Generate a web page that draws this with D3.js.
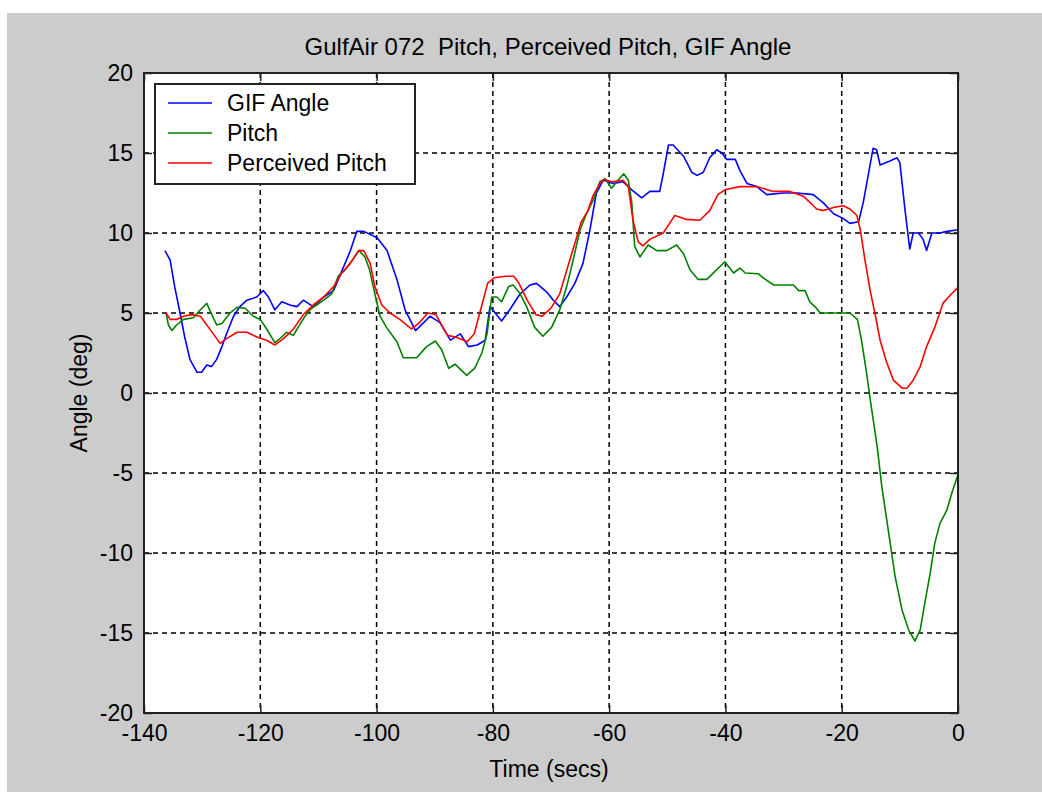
<!DOCTYPE html>
<html>
<head>
<meta charset="utf-8">
<script src="https://cdn.jsdelivr.net/npm/d3@7"></script>
<style>
  body { margin: 0; background: #fff; }
  svg { display: block; }
  text { font-family: "Liberation Sans", Arial, sans-serif; fill: #000; white-space: pre; }
</style>
</head>
<body>
<div id="chart"></div>
<script>
// GIF Angle
const gifTime = [-136.4,-135.5,-134.7,-133.8,-133.0,-132.1,-130.9,-130.1,-129.2,-128.4,-127.5,-126.6,-125.8,-124.6,-123.5,-122.3,-120.6,-119.5,-118.6,-117.5,-116.3,-114.9,-113.7,-112.6,-110.9,-109.1,-107.4,-106.0,-104.5,-103.4,-102.2,-99.9,-98.2,-96.5,-95.1,-93.3,-91.9,-90.8,-89.1,-87.3,-85.6,-84.2,-82.7,-81.3,-80.5,-79.6,-78.5,-77.1,-75.3,-73.6,-72.5,-70.7,-69.6,-68.5,-67.3,-65.9,-64.5,-63.3,-62.2,-61.0,-59.3,-57.6,-56.1,-54.4,-53.0,-51.3,-50.7,-49.8,-49.0,-47.2,-45.8,-44.9,-43.8,-42.7,-41.5,-40.6,-39.8,-38.3,-37.5,-36.3,-34.6,-32.9,-30.0,-27.7,-24.9,-23.2,-21.4,-19.7,-18.6,-17.1,-16.3,-15.4,-14.6,-14.0,-13.4,-11.7,-10.5,-10.0,-9.1,-8.3,-7.7,-6.8,-6.0,-5.4,-4.5,-3.1,-1.9,0];
const gifAngle = [8.9,8.3,6.6,5.0,3.5,2.1,1.3,1.3,1.75,1.65,2.1,2.9,3.7,4.8,5.4,5.8,6.0,6.4,6.0,5.2,5.7,5.5,5.4,5.8,5.4,6.0,6.4,7.6,8.9,10.1,10.1,9.7,8.9,7.1,5.2,3.9,4.4,4.8,4.4,3.3,3.7,2.9,3.0,3.3,5.4,5.0,4.5,5.2,6.2,6.75,6.85,6.3,5.8,5.4,6.0,6.85,8.1,10.2,12.5,13.3,13.1,13.2,12.7,12.2,12.6,12.6,13.7,15.5,15.5,14.8,13.8,13.6,13.8,14.7,15.2,15.0,14.6,14.6,13.9,13.1,12.9,12.4,12.5,12.5,12.4,11.9,11.2,10.9,10.6,10.7,11.9,13.7,15.3,15.2,14.25,14.5,14.7,14.4,11.4,9.0,10.0,10.0,9.6,8.9,10.0,10.0,10.1,10.2];

// Pitch
const pitchTime = [-136.2,-135.8,-135.2,-134.4,-133.2,-131.5,-130.3,-129.2,-128.6,-127.5,-126.6,-125.2,-124.0,-122.6,-121.2,-120.0,-118.9,-117.5,-116.3,-115.5,-114.3,-113.5,-112.3,-111.2,-110.3,-109.1,-107.7,-106.6,-105.4,-104.0,-103.0,-102.0,-101.2,-100.3,-99.4,-98.3,-96.5,-95.4,-93.1,-91.4,-89.9,-88.8,-87.6,-86.5,-84.5,-83.1,-81.9,-81.0,-80.2,-79.3,-78.5,-77.3,-76.5,-75.3,-74.2,-72.8,-71.4,-69.9,-68.5,-67.3,-66.2,-65.0,-63.9,-62.7,-61.6,-60.7,-59.6,-58.7,-57.5,-56.7,-56.1,-55.6,-54.7,-53.3,-51.8,-50.1,-48.4,-47.2,-46.1,-44.7,-43.2,-41.8,-40.1,-38.6,-37.5,-36.6,-34.3,-33.5,-31.7,-28.3,-27.4,-26.3,-25.5,-24.6,-23.7,-18.6,-17.3,-16.6,-15.7,-15.1,-13.9,-13.1,-11.9,-10.8,-9.6,-8.5,-7.4,-6.5,-5.7,-4.8,-4.0,-3.1,-1.9,-1.1,0];
const pitchAngle = [5.0,4.25,3.9,4.25,4.6,4.7,5.2,5.6,5.1,4.25,4.35,5.0,5.35,5.3,4.8,4.6,4.0,3.15,3.5,3.8,3.6,4.1,4.8,5.3,5.5,5.8,6.2,7.3,7.7,8.4,8.9,8.5,7.7,6.2,4.8,4.1,3.2,2.2,2.2,2.9,3.25,2.7,1.55,1.8,1.1,1.55,2.5,3.7,6.0,6.0,5.7,6.65,6.75,6.2,5.4,4.1,3.55,4.1,5.2,6.65,8.3,10.2,11.2,12.1,13.2,13.4,12.8,13.2,13.7,13.3,11.85,9.15,8.5,9.25,8.9,8.9,9.25,8.7,7.7,7.1,7.1,7.6,8.2,7.5,7.8,7.5,7.45,7.2,6.75,6.75,6.4,6.4,5.7,5.4,5.0,5.0,4.6,3.3,1.2,-0.4,-3.35,-5.85,-8.8,-11.5,-13.6,-14.8,-15.5,-14.8,-13.1,-11.3,-9.4,-8.15,-7.3,-6.3,-5.1];

// Perceived Pitch
const percTime = [-136.2,-135.5,-134.4,-133.2,-131.8,-130.3,-128.9,-126.9,-125.8,-124.0,-122.3,-120.6,-118.9,-117.5,-116.0,-114.3,-112.6,-110.9,-109.1,-107.4,-106.0,-104.5,-103.1,-102.2,-101.1,-100.3,-99.1,-97.7,-96.0,-94.0,-92.6,-91.2,-89.8,-87.8,-86.4,-84.4,-83.2,-82.1,-80.9,-79.8,-77.8,-76.4,-75.5,-74.1,-72.6,-71.5,-70.0,-68.5,-67.1,-65.7,-64.8,-63.7,-62.8,-61.6,-60.8,-59.6,-57.6,-56.7,-55.9,-55.0,-54.2,-53.0,-50.7,-48.7,-46.7,-44.4,-42.7,-41.3,-40.1,-37.5,-34.6,-31.8,-28.9,-26.6,-24.3,-23.2,-21.4,-19.7,-18.6,-17.4,-16.8,-16.0,-15.1,-14.3,-13.4,-12.2,-11.1,-9.6,-8.8,-7.7,-6.5,-5.4,-4.0,-2.6,-1.1,0];
const percAngle = [5.0,4.6,4.6,4.8,4.9,4.8,4.1,3.1,3.4,3.8,3.8,3.5,3.3,3.0,3.4,4.0,4.9,5.5,6.0,6.65,7.5,8.1,8.9,8.9,8.1,6.65,5.5,5.0,4.6,4.0,4.4,5.0,4.9,3.6,3.5,3.2,3.7,5.2,6.85,7.2,7.3,7.3,6.85,5.8,4.9,4.8,5.3,6.2,7.9,9.6,10.7,11.35,12.3,13.1,13.35,13.2,13.3,12.9,10.8,9.45,9.2,9.6,10.0,11.1,10.85,10.8,11.4,12.4,12.7,12.9,12.9,12.6,12.6,12.3,11.5,11.4,11.6,11.7,11.5,11.1,10.2,8.3,6.4,5.0,3.3,1.85,0.8,0.3,0.3,0.8,1.65,2.9,4.1,5.6,6.2,6.6];

const xTicks = [-140, -120, -100, -80, -60, -40, -20, 0];
const yTicks = [-20, -15, -10, -5, 0, 5, 10, 15, 20];
const seriesNames = ["GIF Angle", "Pitch", "Perceived Pitch"];
const seriesColors = ["#0000ff", "#008000", "#ff0000"];

const series = [
  gifTime.map((t, i) => ({ t, v: gifAngle[i] })),
  pitchTime.map((t, i) => ({ t, v: pitchAngle[i] })),
  percTime.map((t, i) => ({ t, v: percAngle[i] }))
];

const W = 1042, H = 793;
const margin = { top: 73, right: 84, bottom: 80, left: 144 },
      width = W - margin.left - margin.right,
      height = H - margin.top - margin.bottom;

const root = d3.select("#chart").append("svg")
  .attr("width", W)
  .attr("height", H);

root.append("rect")
  .attr("x", 7).attr("y", 13)
  .attr("width", W - 7).attr("height", 779)
  .attr("fill", "#cccccc");

const svg = root.append("g")
  .attr("transform", `translate(${margin.left},${margin.top})`);

const x = d3.scaleLinear().domain([-140, 0]).range([0, width]);
const y = d3.scaleLinear().domain([-20, 20]).range([height, 0]);

svg.append("rect")
  .attr("width", width).attr("height", height)
  .attr("fill", "#fff");

// grid
svg.append("g")
  .selectAll("line")
  .data(xTicks.slice(1, -1))
  .enter().append("line")
  .attr("x1", d => x(d)).attr("x2", d => x(d))
  .attr("y1", 0).attr("y2", height)
  .attr("stroke", "#000").attr("stroke-width", 1.5)
  .attr("stroke-dasharray", "5,4");

svg.append("g")
  .selectAll("line")
  .data(yTicks.slice(1, -1))
  .enter().append("line")
  .attr("y1", d => y(d)).attr("y2", d => y(d))
  .attr("x1", 0).attr("x2", width)
  .attr("stroke", "#000").attr("stroke-width", 1.5)
  .attr("stroke-dasharray", "5,4");

// axes (inward ticks on all four sides, like MATLAB)
const tickLen = 8;
const fmt = d => String(d);
const axisStyle = g => {
  g.select(".domain").remove();
  g.selectAll(".tick line").attr("stroke", "#222").attr("stroke-width", 1.5);
  g.selectAll(".tick text").style("font-size", "23px")
    .style("font-family", "'Liberation Sans', Arial, sans-serif").attr("fill", "#000");
};

svg.append("g")
  .attr("transform", `translate(0,${height})`)
  .call(d3.axisBottom(x).tickValues(xTicks).tickFormat(fmt).tickSizeInner(-tickLen).tickSizeOuter(0).tickPadding(12))
  .call(axisStyle);

svg.append("g")
  .call(d3.axisTop(x).tickValues(xTicks).tickSizeInner(-tickLen).tickSizeOuter(0).tickFormat(""))
  .call(axisStyle);

svg.append("g")
  .call(d3.axisLeft(y).tickValues(yTicks).tickFormat(fmt).tickSizeInner(-tickLen).tickSizeOuter(0).tickPadding(11))
  .call(axisStyle);

svg.append("g")
  .attr("transform", `translate(${width},0)`)
  .call(d3.axisRight(y).tickValues(yTicks).tickSizeInner(-tickLen).tickSizeOuter(0).tickFormat(""))
  .call(axisStyle);

// lines
const line = d3.line().x(d => x(d.t)).y(d => y(d.v));

svg.selectAll("path.series")
  .data(series)
  .enter().append("path")
  .attr("class", "series")
  .attr("d", line)
  .attr("fill", "none")
  .attr("stroke", (d, i) => seriesColors[i])
  .attr("stroke-width", 1.6)
  .attr("stroke-linejoin", "round");

// box
svg.append("rect")
  .attr("width", width).attr("height", height)
  .attr("fill", "none")
  .attr("stroke", "#222").attr("stroke-width", 2);

// legend
const legend = svg.append("g").attr("transform", "translate(11,11)");
legend.append("rect")
  .attr("width", 260).attr("height", 100)
  .attr("fill", "#fff").attr("stroke", "#222").attr("stroke-width", 2);

seriesNames.forEach((name, i) => {
  const row = legend.append("g").attr("transform", `translate(0,${19 + i * 30})`);
  row.append("line")
    .attr("x1", 13).attr("x2", 57)
    .attr("stroke", seriesColors[i]).attr("stroke-width", 1.6);
  row.append("text")
    .attr("x", 72).attr("dy", "0.35em")
    .style("font-size", "23px")
    .text(name);
});

// title and axis labels
root.append("text")
  .attr("x", margin.left + width / 2 - 3).attr("y", 55)
  .attr("text-anchor", "middle")
  .style("font-size", "24px")
  .text("GulfAir 072  Pitch, Perceived Pitch, GIF Angle");

root.append("text")
  .attr("x", margin.left + width / 2 - 2).attr("y", 777)
  .attr("text-anchor", "middle")
  .style("font-size", "23px")
  .text("Time (secs)");

root.append("text")
  .attr("transform", `translate(87,${margin.top + height / 2}) rotate(-90)`)
  .attr("text-anchor", "middle")
  .style("font-size", "23px")
  .text("Angle (deg)");
</script>
</body>
</html>
